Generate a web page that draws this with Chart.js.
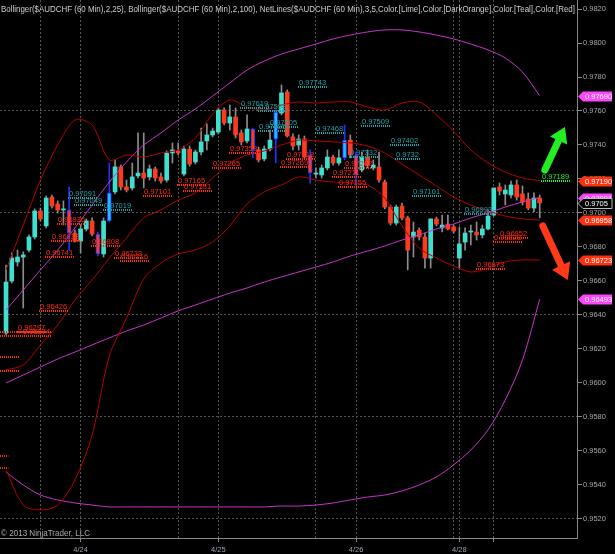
<!DOCTYPE html>
<html><head><meta charset="utf-8">
<script src="https://cdn.jsdelivr.net/npm/chart.js@4.4.0/dist/chart.umd.min.js"></script>
<style>html,body{margin:0;padding:0;background:#000;overflow:hidden}#c{display:block}</style>
</head><body><canvas id="c" width="615" height="554"></canvas>
<script>
// ---------- candle data (hourly, bar index 0..93) ----------
const opens = [0.96294,0.96600,0.96712,0.96741,0.96782,0.96859,0.97012,0.96924,0.97094,0.97053,
0.97018,0.97018,0.96882,0.96835,0.96906,0.96953,0.96876,0.96759,0.96953,0.97124,
0.97271,0.97153,0.97147,0.97218,0.97235,0.97212,0.97259,0.97212,0.97194,0.97353,
0.97365,0.97229,0.97376,0.97300,0.97359,0.97424,0.97459,0.97476,0.97606,0.97529,
0.97565,0.97471,0.97424,0.97494,0.97371,0.97318,0.97376,0.97435,0.97588,0.97712,
0.97447,0.97400,0.97435,0.97341,0.97229,0.97224,0.97265,0.97329,0.97294,0.97324,
0.97429,0.97341,0.97253,0.97329,0.97265,0.97271,0.97182,0.97035,0.96941,0.97041,
0.96971,0.96859,0.96900,0.96859,0.96735,0.96965,0.96912,0.96935,0.96918,0.96735,
0.96829,0.96888,0.96888,0.96871,0.96906,0.96988,0.97153,0.97112,0.97106,0.97165,
0.97112,0.97082,0.97029,0.97088];
const highs = [0.96694,0.96765,0.96782,0.96771,0.96871,0.97024,0.97029,0.97100,0.97106,0.97071,
0.97071,0.97153,0.96900,0.96929,0.96965,0.96971,0.96888,0.96971,0.97294,0.97312,
0.97282,0.97194,0.97294,0.97471,0.97471,0.97282,0.97271,0.97235,0.97365,0.97412,
0.97412,0.97394,0.97394,0.97371,0.97500,0.97524,0.97500,0.97618,0.97618,0.97635,
0.97618,0.97488,0.97577,0.97500,0.97388,0.97394,0.97488,0.97606,0.97753,0.97724,
0.97465,0.97459,0.97453,0.97371,0.97265,0.97282,0.97371,0.97341,0.97371,0.97518,
0.97459,0.97359,0.97359,0.97371,0.97312,0.97359,0.97194,0.97047,0.97047,0.97059,
0.96982,0.96947,0.96912,0.96882,0.96965,0.96976,0.96988,0.96988,0.96929,0.96918,
0.96912,0.96929,0.96947,0.96929,0.97018,0.97147,0.97176,0.97165,0.97188,0.97194,
0.97159,0.97118,0.97118,0.97106];
const lows = [0.96282,0.96588,0.96688,0.96441,0.96771,0.96847,0.96953,0.96912,0.97029,0.97000,
0.96929,0.96782,0.96829,0.96765,0.96894,0.96865,0.96747,0.96741,0.96947,0.97112,
0.97135,0.97124,0.97135,0.97206,0.97147,0.97194,0.97188,0.97176,0.97182,0.97294,
0.97341,0.97218,0.97276,0.97288,0.97341,0.97371,0.97447,0.97465,0.97518,0.97488,
0.97441,0.97400,0.97412,0.97324,0.97300,0.97306,0.97365,0.97294,0.97577,0.97447,
0.97371,0.97371,0.97324,0.97176,0.97206,0.97206,0.97253,0.97282,0.97282,0.97312,
0.97324,0.97165,0.97241,0.97265,0.97253,0.97182,0.97024,0.96929,0.96929,0.96959,
0.96665,0.96741,0.96841,0.96676,0.96676,0.96924,0.96888,0.96900,0.96882,0.96676,
0.96782,0.96812,0.96841,0.96853,0.96900,0.96982,0.97106,0.97047,0.97088,0.97076,
0.97047,0.97018,0.97006,0.96971];
const closes = [0.96594,0.96735,0.96741,0.96753,0.96859,0.97012,0.96965,0.97088,0.97041,0.97018,
0.97024,0.96882,0.96835,0.96906,0.96953,0.96876,0.96759,0.96953,0.97118,0.97271,
0.97153,0.97135,0.97212,0.97235,0.97206,0.97259,0.97206,0.97188,0.97353,0.97371,
0.97353,0.97376,0.97288,0.97359,0.97418,0.97459,0.97482,0.97606,0.97529,0.97565,
0.97459,0.97418,0.97494,0.97371,0.97312,0.97376,0.97429,0.97594,0.97706,0.97453,
0.97394,0.97435,0.97329,0.97235,0.97235,0.97265,0.97329,0.97294,0.97324,0.97429,
0.97341,0.97224,0.97329,0.97282,0.97282,0.97194,0.97035,0.96941,0.97035,0.96971,
0.96782,0.96888,0.96859,0.96735,0.96965,0.96935,0.96929,0.96906,0.96894,0.96818,
0.96882,0.96894,0.96871,0.96906,0.96982,0.97147,0.97129,0.97135,0.97165,0.97094,
0.97065,0.97029,0.97088,0.97059];
const markedBars = [11,16,18,43,47,53,59,61];

// ---------- indicator lines (sampled every 3 bars) ----------
const bandBars = [0,3,6,9,12,15,18,21,24,27,30,33,36,39,42,45,48,51,54,57,60,63,66,69,72,75,78,81,84,87,90,93];
const bb25Upper = [0.96665,0.96929,0.97194,0.97400,0.97547,0.97518,0.97312,0.97341,0.97329,0.97353,0.97371,0.97441,0.97582,0.97665,0.97624,0.97606,0.97635,0.97653,0.97647,0.97653,0.97653,0.97624,0.97606,0.97647,0.97653,0.97577,0.97482,0.97371,0.97294,0.97241,0.97206,0.97190];
const bb25Mid = [0.96077,0.96106,0.96224,0.96341,0.96488,0.96606,0.96735,0.96853,0.96971,0.97018,0.97076,0.97118,0.97206,0.97294,0.97341,0.97365,0.97400,0.97429,0.97424,0.97418,0.97412,0.97394,0.97353,0.97288,0.97224,0.97159,0.97094,0.97047,0.97012,0.96982,0.96965,0.96958];
const bb25Lower = [0.95488,0.95282,0.95253,0.95282,0.95429,0.95694,0.96159,0.96382,0.96612,0.96706,0.96759,0.96782,0.96829,0.96924,0.97053,0.97124,0.97165,0.97212,0.97194,0.97182,0.97176,0.97165,0.97088,0.96924,0.96794,0.96735,0.96688,0.96653,0.96676,0.96712,0.96724,0.96723];
const bb100Upper = [0.96429,0.96547,0.96665,0.96782,0.96912,0.97047,0.97182,0.97300,0.97400,0.97471,0.97547,0.97612,0.97688,0.97765,0.97841,0.97894,0.97935,0.97965,0.97994,0.98024,0.98047,0.98065,0.98077,0.98077,0.98065,0.98047,0.98024,0.97994,0.97959,0.97912,0.97829,0.97690];
const bb100Mid = [0.96000,0.96047,0.96094,0.96141,0.96182,0.96224,0.96265,0.96306,0.96341,0.96382,0.96424,0.96459,0.96494,0.96529,0.96559,0.96594,0.96624,0.96653,0.96682,0.96712,0.96747,0.96776,0.96806,0.96841,0.96871,0.96906,0.96935,0.96971,0.97000,0.97035,0.97065,0.97091];
const bb100Lower = [0.95476,0.95400,0.95341,0.95312,0.95294,0.95282,0.95271,0.95271,0.95271,0.95271,0.95271,0.95271,0.95271,0.95271,0.95271,0.95271,0.95276,0.95276,0.95282,0.95294,0.95312,0.95329,0.95341,0.95365,0.95400,0.95447,0.95518,0.95606,0.95724,0.95900,0.96135,0.96493];

// ---------- NetLines levels ----------
const netPrices = [0.97743,0.97619,0.97598,0.97485,0.97505,0.97468,0.97509,0.97402,0.97332,0.9732,0.97101,0.96993,0.97091,0.97049,0.97019,
0.97101,0.97165,0.97131,0.97265,0.97353,0.97318,0.97269,0.97211,0.97155,0.97262,0.96936,0.96838,0.96808,0.96741,0.96733,0.96716,0.96426,0.96297,0.96274,0.96852,0.96828,0.96673,
0.97189];
const netBars = [51,41,44,44,46,54,62,67,60,68,71,80,11,12,17,
24,30,31,36,39,49,48,57,58,59,9,8,15,7,19,20,6,2,3,86,85,82,
93.4];
const netKinds = 'ttttttttttttttt' + 'rrrrrrrrrrrrrrrrrrrrrr' + 'g';
const edgeLinePrices = [0.96153,0.96071,0.95571,0.95500,0.96297,0.96274];
const edgeLineEnds = [2.4,2.4,0.4,0.4,7.9,7.9];

// ---------- axes ----------
const yTicks = [0.9520,0.9540,0.9560,0.9580,0.9600,0.9620,0.9640,0.9660,0.9680,0.9700,0.9720,0.9740,0.9760,0.9780,0.9800,0.9820];
const yGridValues = [0.9520,0.9580,0.9640,0.9700,0.9760];
const yMin = 0.95088, yMax = 0.98253;
const xMin = -1.05, xMax = 99.5;
const xGridBars = [6,13,30,37,54,61,78,79,85];
const dayBars = [13,37,61,79];
const dayTexts = ['4/24','4/25','4/26','4/28'];
const xTickMarkBars = [13,37,61,79,85];

// ---------- right-side value tags ----------
const tagValues = [0.97690,0.97091,0.96493,0.97059,0.97190,0.96958,0.96723];
const tagTexts = ['0.97690','0.97091','0.96493','0.9705','0.97190','0.96958','0.96723'];
const tagKinds = 'mmmkrrr';

// ---------- arrows (bar index, price) ----------
const arrowGreen = [[93.9,0.97253],[97.4,0.97506]];
const arrowRed = [[93.55,0.96924],[97.9,0.96606]];

const header = 'Bollinger($AUDCHF (60 Min),2,25), Bollinger($AUDCHF (60 Min),2,100), NetLines($AUDCHF (60 Min),3,5,Color.[Lime],Color.[DarkOrange],Color.[Teal],Color.[Red]';

const UP = '#40e0d0', DOWN = '#ff3b1f', WICK = '#8c8c8c', BLUE = '#2233ff', MARKUP = '#22bbff';
const TEAL = '#1fa3aa', NRED = '#ff2a14', LIME = '#22ee22';
const BBR = '#b80000', BBM = '#cc33cc', GRID = '#555555';
const FONT = '"Liberation Sans", Arial, sans-serif';

const idx = opens.map((_, i) => i);
const isMarked = i => markedBars.indexOf(i) >= 0;
const wickData = idx.map(i => ({x: i, y: [lows[i], highs[i]]}));
const bodyData = idx.map(i => ({x: i, y: [Math.min(opens[i], closes[i]), Math.max(opens[i], closes[i])]}));
const bodyColors = idx.map(i => closes[i] >= opens[i] ? (isMarked(i) ? MARKUP : UP) : DOWN);
const bodyBorders = idx.map(i => isMarked(i) ? BLUE : 'rgba(0,0,0,0)');
const bodyBorderW = idx.map(i => isMarked(i) ? 1 : 0);
const wickColors = idx.map(i => isMarked(i) ? BLUE : WICK);

function lineDs(vals, color) {
  return {type: 'line', data: bandBars.map((b, k) => ({x: b, y: vals[k]})), borderColor: color,
    borderWidth: 1, pointRadius: 0, tension: 0.3, fill: false, order: 1};
}
const near = (a, b) => Math.abs(a - b) < 1e-7;
const zeroPad = s => { s.paddingTop = 0; s.paddingBottom = 0; s.paddingLeft = 0; s.paddingRight = 0; };

function arrow(ctx, x1, y1, x2, y2, color, shaft, headLen, headW) {
  const ang = Math.atan2(y2 - y1, x2 - x1);
  const bx = x2 - headLen * Math.cos(ang), by = y2 - headLen * Math.sin(ang);
  ctx.setLineDash([]);
  ctx.strokeStyle = color; ctx.lineWidth = shaft; ctx.lineCap = 'round';
  ctx.beginPath(); ctx.moveTo(x1, y1); ctx.lineTo(bx, by); ctx.stroke();
  const nx = -Math.sin(ang), ny = Math.cos(ang);
  ctx.fillStyle = color; ctx.beginPath();
  ctx.moveTo(x2, y2);
  ctx.lineTo(bx + nx * headW / 2, by + ny * headW / 2);
  ctx.lineTo(bx - nx * headW / 2, by - ny * headW / 2);
  ctx.closePath(); ctx.fill();
}

const bgPlugin = {id: 'bg', beforeDraw(c) { const g = c.ctx; g.save(); g.fillStyle = '#000'; g.fillRect(0, 0, c.width, c.height); g.restore(); }};

const overlay = {
  id: 'overlay',
  afterDatasetsDraw(chart) {
    const {ctx, chartArea: a, scales: {x, y}} = chart;
    ctx.save();
    ctx.beginPath(); ctx.rect(a.left, a.top, a.right - a.left, a.bottom - a.top); ctx.clip();
    ctx.lineWidth = 2; ctx.setLineDash([1, 1]); ctx.lineCap = 'butt';
    edgeLinePrices.forEach((p, k) => {
      const yy = Math.round(y.getPixelForValue(p));
      ctx.strokeStyle = NRED; ctx.beginPath(); ctx.moveTo(a.left, yy); ctx.lineTo(x.getPixelForValue(edgeLineEnds[k]), yy); ctx.stroke();
    });
    ctx.font = '7.5px ' + FONT; ctx.textBaseline = 'alphabetic'; ctx.textAlign = 'left';
    netPrices.forEach((p, k) => {
      const kind = netKinds[k];
      const col = kind === 't' ? TEAL : kind === 'g' ? LIME : NRED;
      const xx = Math.round(x.getPixelForValue(netBars[k]));
      const yy = Math.round(y.getPixelForValue(p));
      const txt = String(p);
      const w = ctx.measureText(txt).width;
      ctx.strokeStyle = col; ctx.lineWidth = 2; ctx.setLineDash([1, 1]);
      ctx.beginPath(); ctx.moveTo(xx - 1, yy); ctx.lineTo(xx + w + 2, yy); ctx.stroke();
      ctx.fillStyle = col; ctx.fillText(txt, xx, yy - 2);
    });
    arrow(ctx, x.getPixelForValue(arrowGreen[0][0]), y.getPixelForValue(arrowGreen[0][1]),
      x.getPixelForValue(arrowGreen[1][0]), y.getPixelForValue(arrowGreen[1][1]), LIME, 7, 15, 19);
    arrow(ctx, x.getPixelForValue(arrowRed[0][0]), y.getPixelForValue(arrowRed[0][1]),
      x.getPixelForValue(arrowRed[1][0]), y.getPixelForValue(arrowRed[1][1]), '#ff3a18', 7, 16, 20);
    ctx.restore();
  },
  afterDraw(chart) {
    const {ctx, chartArea: a, scales: {y}} = chart;
    ctx.save();
    ctx.font = '9.5px "Liberation Sans Narrow", ' + FONT; ctx.fillStyle = '#cfcfcf';
    ctx.textBaseline = 'alphabetic'; ctx.textAlign = 'left';
    ctx.fillText(header, 1, 12, 574);
    ctx.fillStyle = '#a8a8a8';
    ctx.fillText('\u00a9 2013 NinjaTrader, LLC', 1, 536, 89);
    ctx.font = '7.5px ' + FONT; ctx.textBaseline = 'middle';
    tagValues.forEach((v, k) => {
      const yy = Math.round(y.getPixelForValue(v)) + 0.5;
      const kind = tagKinds[k];
      const fill = kind === 'm' ? '#ff44ff' : kind === 'k' ? '#000000' : '#ff3010';
      const L = a.right + 1;
      ctx.beginPath();
      ctx.moveTo(L, yy); ctx.lineTo(L + 5, yy - 5); ctx.lineTo(612, yy - 5); ctx.lineTo(612, yy + 5); ctx.lineTo(L + 5, yy + 5); ctx.closePath();
      ctx.fillStyle = fill; ctx.fill();
      if (kind === 'k') { ctx.strokeStyle = '#bbbbbb'; ctx.lineWidth = 1; ctx.stroke(); }
      ctx.fillStyle = '#ffffff'; ctx.fillText(tagTexts[k], L + 7, yy + 0.5);
    });
    ctx.restore();
  }
};

new Chart(document.getElementById('c'), {
  type: 'bar',
  data: {
    datasets: [
      {label: 'wicks', data: wickData, backgroundColor: wickColors, barThickness: 1, maxBarThickness: 1, grouped: false, minBarLength: 1, borderWidth: 0, order: 3},
      {label: 'bodies', data: bodyData, backgroundColor: bodyColors, borderColor: bodyBorders, borderWidth: bodyBorderW, borderSkipped: false,
        barThickness: 4, maxBarThickness: 4, grouped: false, minBarLength: 1, order: 2},
      lineDs(bb25Upper, BBR), lineDs(bb25Mid, BBR), lineDs(bb25Lower, BBR),
      lineDs(bb100Upper, BBM), lineDs(bb100Mid, BBM), lineDs(bb100Lower, BBM)
    ]
  },
  options: {
    responsive: false, animation: false, devicePixelRatio: 1, events: [],
    layout: {padding: 0},
    plugins: {legend: {display: false}, tooltip: {enabled: false}, title: {display: false}},
    scales: {
      x: {
        type: 'linear', min: xMin, max: xMax, offset: false,
        afterBuildTicks: s => { s.ticks = xGridBars.map(v => ({value: v})); },
        afterFit: s => { s.height = 16; zeroPad(s); },
        ticks: {autoSkip: false, maxRotation: 0, minRotation: 0, color: '#95a5b5', padding: 3,
          font: {size: 7.5, family: FONT},
          callback: v => { const k = dayBars.indexOf(v); return k >= 0 ? dayTexts[k] : ''; }},
        grid: {offset: false, color: GRID, lineWidth: 1, tickLength: 4,
          tickColor: c => (c.tick && xTickMarkBars.indexOf(c.tick.value) >= 0) ? '#888888' : 'rgba(0,0,0,0)'},
        border: {display: true, color: '#888888', width: 1, dash: [2, 2]}
      },
      y: {
        type: 'linear', position: 'right', min: yMin, max: yMax, beginAtZero: false,
        afterBuildTicks: s => { s.ticks = yTicks.map(v => ({value: v})); },
        afterFit: s => { s.width = 38; zeroPad(s); },
        ticks: {autoSkip: false, color: '#a8a8a8', padding: 1, font: {size: 7.5, family: FONT},
          callback: v => Number(v).toFixed(4)},
        grid: {color: c => (c.tick && yGridValues.some(g => near(g, c.tick.value))) ? GRID : 'rgba(0,0,0,0)',
          lineWidth: 1, tickLength: 5, tickColor: '#888888'},
        border: {display: true, color: '#888888', width: 1, dash: [2, 2]}
      }
    }
  },
  plugins: [bgPlugin, overlay]
});
</script>
</body></html>
